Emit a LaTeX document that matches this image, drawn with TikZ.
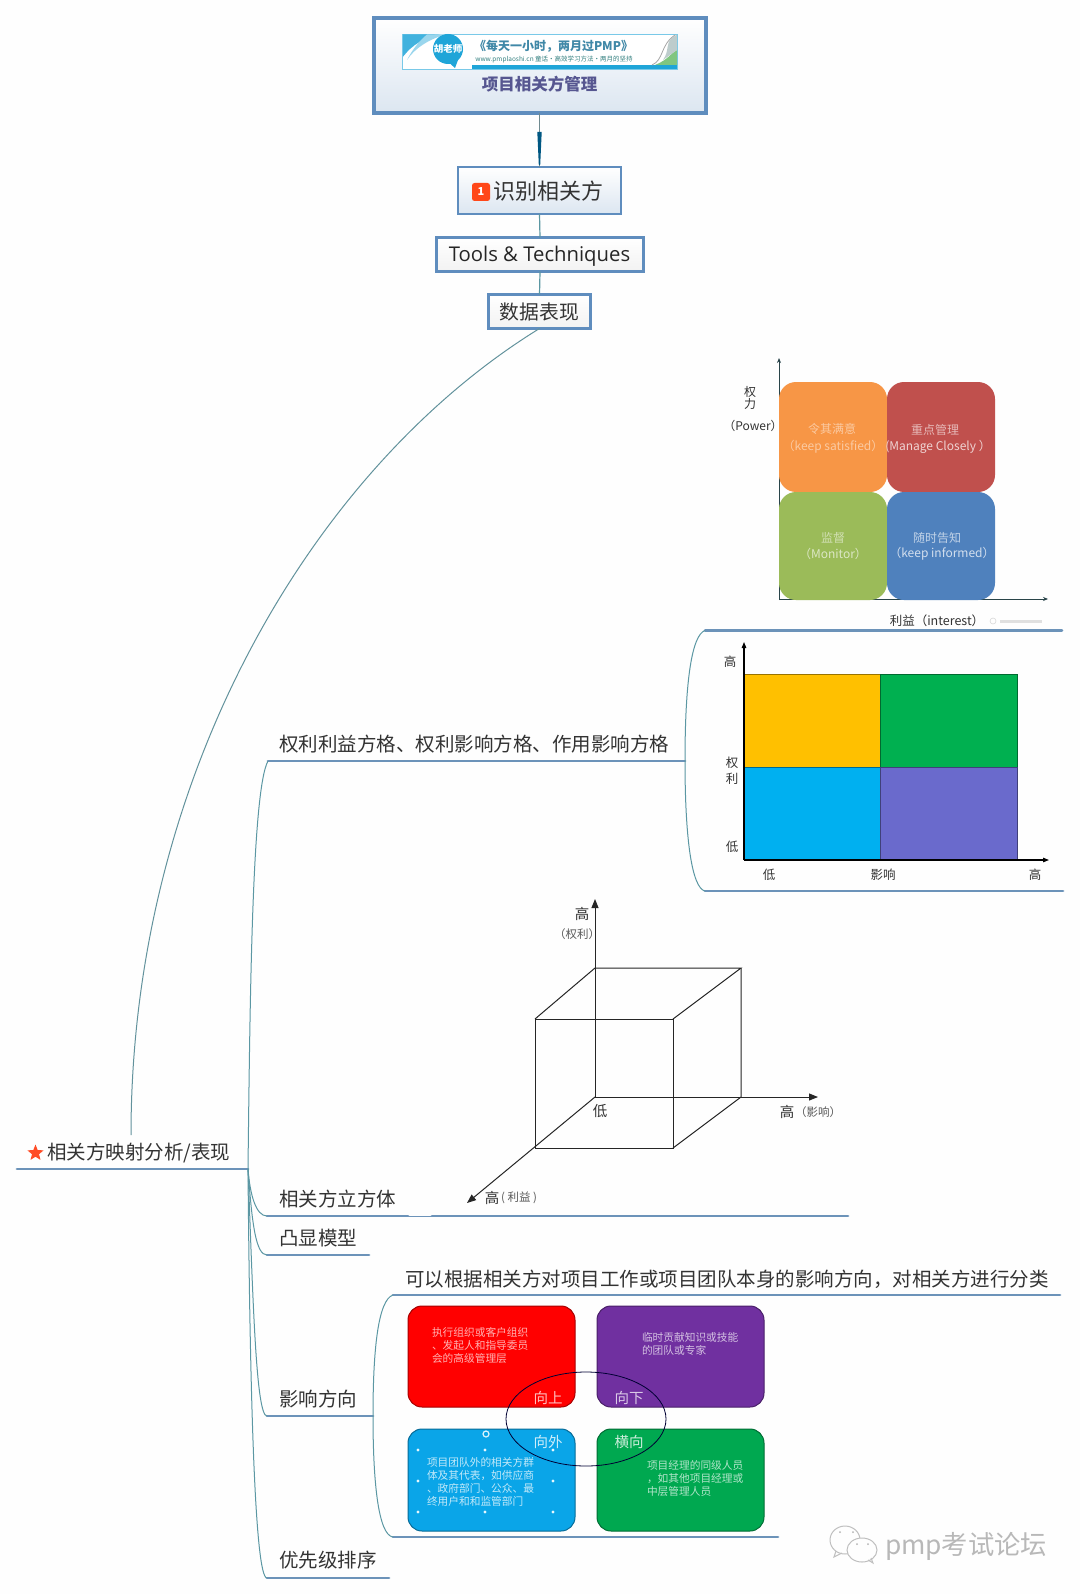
\documentclass[tikz,border=0pt]{standalone}
\usepackage{fontspec}
\setmainfont{Noto Sans CJK SC}
\newfontfamily\latinf{Open Sans}
\usetikzlibrary{shapes.geometric,arrows.meta}
\newcommand\fsz[1]{\fontsize{#1}{#1}\selectfont}
\definecolor{boxblue}{HTML}{5F8DBE}
\definecolor{lineblue}{HTML}{6C93B9}
\definecolor{conn}{HTML}{5B97A3}
\definecolor{ink}{HTML}{333333}
\definecolor{qorange}{HTML}{F79646}
\definecolor{qred}{HTML}{C0504D}
\definecolor{qgreen}{HTML}{9BBB59}
\definecolor{qblue}{HTML}{4F81BD}
\definecolor{gyellow}{HTML}{FFC000}
\definecolor{ggreen}{HTML}{00B050}
\definecolor{gcyan}{HTML}{00B0F0}
\definecolor{gviolet}{HTML}{6A6ACC}
\definecolor{ired}{HTML}{FF0000}
\definecolor{iviolet}{HTML}{7030A0}
\definecolor{icyan}{HTML}{0AA5E8}
\definecolor{igreen}{HTML}{00A850}
\definecolor{bancyan}{HTML}{1FA5D8}
\tikzset{
  every node/.style={inner sep=0pt,outer sep=0pt,text=ink},
  topbox/.style={draw=boxblue,shade,top color=white,bottom color=#1},
  topic/.style={anchor=west,font=\fsz{19.5}},
  uline/.style={draw=lineblue,line width=2.8pt,line cap=round},
  branch/.style={draw=conn,line width=1pt},
  smalltxt/.style={font=\fsz{12},text=#1},
  quad/.style={draw=none,rounded corners=17pt,fill=#1,minimum width=108pt},
  cell/.style={draw=#1!60!black,line width=1pt,fill=#1},
  infobox/.style={rounded corners=14pt,line width=1pt,draw=#1!65!black,fill=#1},
  infotxt/.style={anchor=north west,align=left,text=#1,font=\fontsize{10.7}{13.3}\selectfont},
  dirtxt/.style={font=\fsz{14.5},text=#1},
  cubeline/.style={draw=black!85,line width=1pt},
  cubeaxis/.style={draw=black!85,line width=1pt,-{Triangle[length=9pt,width=7pt]}},
  mapaxis/.style={draw=black!55!conn,line width=.9pt,-{Stealth[length=5pt,width=4pt]}},
  gaxis/.style={draw=black,line width=1.2pt,-{Triangle[length=6pt,width=4.5pt]}},
  handle/.style={circle,fill=white!90!cyan,minimum size=3.2pt}
}
\begin{document}
\begin{tikzpicture}[x=1pt,y=-1pt]
\useasboundingbox (0,0) rectangle (1080,1594);
\fill[white!99.5!black] (0,0) rectangle (1080,1594);

% --- top boxes
\node[topbox=boxblue!22!white,line width=4pt,minimum width=332pt,minimum height=95pt] (root) at (539.5,65.5) {};
\node[topbox=boxblue!22!white,line width=1.8pt,minimum width=163pt,minimum height=47pt] (ident) at (539.5,190.5) {};
\node[topbox=black!5,line width=2.2pt,minimum width=207pt,minimum height=34pt] (tools) at (540,254.5) {};
\node[font=\latinf\fsz{20.3},text=black!85] (toolst) at (539.5,256) {Tools \& Techniques};
\node[topbox=black!5,line width=2.2pt,minimum width=102pt,minimum height=34pt] (data) at (539.5,311.5) {\fsz{19.8}数据表现};

% banner
\node[rectangle,draw=bancyan!60,line width=.7pt,fill=white,minimum width=275pt,minimum height=35pt] (banner) at (539.5,51.5) {};
\fill[bancyan!85] (403,34.5) -- (435,34.5) .. controls (418,42) and (410,55) .. (403,65) -- cycle;
\fill[white] (403,57) .. controls (412,45) and (424,38) .. (440,34.5) -- (445,34.5) .. controls (428,40) and (414,50) .. (405,68) -- (403,68) -- cycle;
\fill[bancyan!45] (427,34.5) .. controls (420,40) and (412,50) .. (407,60) .. controls (415,48) and (428,40) .. (445,34.5) -- cycle;
\fill[bancyan] (472,65) rectangle (677,69);
\node[circle,fill=bancyan,minimum size=30pt] (bub) at (448,49) {};
\fill[bancyan] (446,60) -- (458,60) -- (455,68) -- cycle;
\node[font=\fsz{9.5}\bfseries,text=white] (hu) at (448,49) {胡老师};
\node[font=\fsz{12}\bfseries,text=cyan!40!teal!90!black] (bt) at (553.5,46.5) {《每天一小时，两月过PMP》};
\node[font=\fsz{6.5},text=teal!60!gray] (bu) at (554,59.5) {www.pmplaoshi.cn 童话•高效学习方法•两月的坚持};
\fill[green!55!black!50] (655,65) .. controls (668,60) and (672,52) .. (677,50) -- (677,65) -- cycle;
\fill[teal!30!gray!40] (663,60) .. controls (670,50) and (665,44) .. (672,38) -- (677,34.5) -- (677,50) -- cycle;
\draw[gray!70,line width=.8pt] (652,65) .. controls (664,60) and (660,45) .. (675,35);
\node[font=\fsz{16.5}\bfseries,text=blue!25!gray!90!black] (rt) at (539.5,84.5) {项目相关方管理};

% identify box content
\node[rounded corners=2.5pt,fill=red!60!orange!90,minimum size=18pt,font=\fsz{11}\bfseries,text=white] (icon) at (481,192) {1};
\node[anchor=west,font=\fsz{22}] (idt) at (493,191) {识别相关方};

% connectors between boxes
\draw[gray!55!conn,line width=1.2pt] (root.south) -- (ident.north);
\coordinate (tapA) at (539.5,130);
\fill[teal!80!blue!85!black] (tapA) ++(-2.2,2) -- ++(4.4,0) -- (540.2,165) -- (538.8,165) -- cycle;
\draw[conn,line width=1.2pt] (ident.south) -- (tools.north);
\draw[conn,line width=1.2pt] (tools.south) -- (data.north);

% --- main topic
\node[star,star points=5,star point ratio=2.3,fill=red!65!orange!85,minimum size=17pt] (mstar) at (35.5,1153) {};
\node[topic] (main) at (47,1153) {相关方映射分析/表现};
\coordinate (mL) at (17,1169);
\coordinate (mR) at (248,1169);
\coordinate (mUp) at (131,1135);
\draw[uline] (mL) -- (mR);
\draw[branch,draw=conn!80!gray] (data.south) .. controls (310,470) and (131,780) .. (mUp);

% --- sub topics
\node[topic] (t1) at (279,744) {权利利益方格、权利影响方格、作用影响方格};
\coordinate (t1a) at (268,761); \coordinate (t1b) at (685,761);
\draw[uline] (t1a) -- (t1b);
\draw[branch] (mR) .. controls (250,1000) and (252,790) .. (t1a);

\node[topic] (t2) at (279,1199) {相关方立方体};
\coordinate (t2a) at (267,1216); \coordinate (t2b) at (408,1216);
\coordinate (t2c) at (432,1216); \coordinate (t2d) at (848,1216);
\draw[uline] (t2a) -- (t2b);
\draw[uline] (t2c) -- (t2d);
\draw[lineblue,line width=1pt] (t2b) -- (t2c);
\draw[branch] (mR) .. controls (250,1195) and (256,1216) .. (t2a);

\node[topic] (t3) at (279,1238) {凸显模型};
\coordinate (t3a) at (267,1255); \coordinate (t3b) at (369,1255);
\draw[uline] (t3a) -- (t3b);
\draw[branch] (mR) .. controls (252,1225) and (256,1255) .. (t3a);

\node[topic] (t4) at (279,1399) {影响方向};
\coordinate (t4a) at (267,1416); \coordinate (t4b) at (373,1416);
\draw[uline] (t4a) -- (t4b);
\draw[branch] (mR) .. controls (253,1300) and (256,1416) .. (t4a);

\node[topic] (t5) at (279,1560) {优先级排序};
\coordinate (t5a) at (267,1578); \coordinate (t5b) at (389,1578);
\draw[uline] (t5a) -- (t5b);
\draw[branch] (mR) .. controls (250,1400) and (255,1578) .. (t5a);

% --- right bracket for the power grids
\coordinate (g1a) at (705,630.5); \coordinate (g1b) at (1062,630.5);
\coordinate (g2a) at (705,891); \coordinate (g2b) at (1063,891);
\draw[uline] (g1a) -- (g1b);
\draw[uline] (g2a) -- (g2b);
\draw[branch] (t1b) .. controls (685,680) and (692,635) .. (g1a);
\draw[branch] (t1b) .. controls (685,840) and (692,888) .. (g2a);

% --- first quadrant image
\draw[mapaxis] (779,600) -- (779,358);
\draw[mapaxis] (779,599) -- (1048,599);
\node[quad=qorange,minimum height=110pt] (qa) at (833,437) {};
\node[quad=qred,minimum height=110pt] (qb) at (941,437) {};
\node[quad=qgreen,minimum height=108pt] (qc) at (833,546) {};
\node[quad=qblue,minimum height=108pt] (qd) at (941,546) {};
\node[smalltxt=white!50!qorange] (qa1) at (832,429) {令其满意};
\node[smalltxt=white!50!qorange] (qa2) at (833,447) {（keep satisfied）};
\node[smalltxt=white!60!qred] (qb1) at (935,430) {重点管理};
\node[smalltxt=white!75!qred] (qb2) at (938,447) {(Manage Closely ）};
\node[smalltxt=white!55!qgreen] (qc1) at (833,538) {监督};
\node[smalltxt=white!65!qgreen] (qc2) at (833,554) {（Monitor）};
\node[smalltxt=white!65!qblue] (qd1) at (937,538) {随时告知};
\node[smalltxt=white!75!qblue] (qd2) at (942,554) {（keep informed）};
\node[font=\fsz{12}] (pa) at (750,392) {权};
\node[font=\fsz{12}] (pb) at (750,404) {力};
\node[font=\fsz{12}] (pc) at (753,425.5) {（Power）};
\node[font=\fsz{12.5}] (ia) at (937,621) {利益（interest）};
\draw[black!15,line width=.6pt] (993,621) circle (3pt);
\draw[black!12,line width=3pt] (1000,621) -- (1042,621);

% --- second quadrant image
\draw[cell=gyellow] (744,674) rectangle (880,767);
\draw[cell=ggreen] (880,674) rectangle (1017,767);
\draw[cell=gcyan] (744,767) rectangle (880,860);
\draw[cell=gviolet] (880,767) rectangle (1017,860);
\coordinate (gO) at (744,860);
\coordinate (gY) at (744,642);
\coordinate (gX) at (1049,860);
\draw[gaxis] (gO) -- (gY);
\draw[gaxis] (gO) -- (gX);
\node[font=\fsz{12.5}] (l1) at (730,662) {高};
\node[font=\fsz{12.5}] (l2) at (732,763) {权};
\node[font=\fsz{12.5}] (l3) at (732,779) {利};
\node[font=\fsz{12.5}] (l4) at (732,847) {低};
\node[font=\fsz{12.5}] (l5) at (769,875) {低};
\node[font=\fsz{12.5}] (l6) at (883,875) {影响};
\node[font=\fsz{12.5}] (l7) at (1035,875) {高};

% --- cube
\coordinate (o) at (595,1097);
\coordinate (bt) at (595,968); \coordinate (brt) at (741,968); \coordinate (brb) at (741,1097);
\coordinate (flt) at (535,1019); \coordinate (frt) at (673,1019);
\coordinate (flb) at (535,1148); \coordinate (frb) at (673,1148);
\coordinate (yE) at (595,899); \coordinate (xE) at (818,1097); \coordinate (zE) at (467,1203);
\draw[cubeline] (flt) rectangle (frb);
\draw[cubeline] (flt) -- (bt) -- (brt) -- (frt);
\draw[cubeline] (brt) -- (brb) -- (frb);
\draw[cubeaxis] (o) -- (yE);
\draw[cubeaxis] (o) -- (xE);
\draw[cubeaxis] (o) -- (zE);
\node[font=\fsz{14.5}] (c1) at (582,914) {高};
\node[font=\fsz{11.5},text=black!65] (c2) at (577,934) {（权利）};
\node[font=\fsz{14.5}] (c3) at (600,1111) {低};
\node[font=\fsz{14.5}] (c4) at (787,1112) {高};
\node[font=\fsz{11.5},text=black!65] (c5) at (818,1112) {（影响）};
\node[font=\fsz{14.5}] (c6) at (492,1198) {高};
\node[font=\fsz{11.5},text=black!65] (c7) at (519,1198) {( 利益 )};

% --- direction branch
\node[anchor=west,font=\fsz{19.5}] (dirhead) at (405,1279) {可以根据相关方对项目工作或项目团队本身的影响方向，对相关方进行分类};
\coordinate (d1a) at (393,1295); \coordinate (d1b) at (1060,1295);
\coordinate (d2a) at (393,1537); \coordinate (d2b) at (778,1537);
\draw[uline] (d1a) -- (d1b);
\draw[uline] (d2a) -- (d2b);
\draw[branch] (t4b) .. controls (373,1350) and (378,1300) .. (d1a);
\draw[branch] (t4b) .. controls (373,1480) and (378,1535) .. (d2a);

\draw[infobox=ired] (408,1306) rectangle (575,1407);
\draw[infobox=iviolet] (597,1306) rectangle (764,1407);
\draw[infobox=icyan] (408,1429) rectangle (575,1531);
\draw[infobox=igreen] (597,1429) rectangle (764,1531);
\node[infotxt=white!70!ired] (rtx) at (432,1327) {执行组织或客户组织\\、发起人和指导委员\\会的高级管理层};
\node[infotxt=white!70!iviolet] (ptx) at (642,1332) {临时贡献知识或技能\\的团队或专家};
\node[infotxt=white!75!icyan] (btx) at (427,1457) {项目团队外的相关方群\\体及其代表，如供应商\\、政府部门、公众、最\\终用户和和监管部门};
\node[infotxt=white!70!igreen] (gtx) at (647,1460) {项目经理的同级人员\\，如其他项目经理或\\中层管理人员};
\node[dirtxt=white!75!ired] (up) at (548,1398) {向上};
\node[dirtxt=white!75!iviolet] (dn) at (629,1398) {向下};
\node[dirtxt=white!80!icyan] (ou) at (548,1442) {向外};
\node[dirtxt=white!80!igreen] (lt) at (629,1442) {横向};
\node[ellipse,draw=black!80!blue,line width=.8pt,minimum width=160pt,minimum height=94pt] (oval) at (586,1419) {};
\foreach \hx/\hy/\hn in {418/1450/a,485/1450/b,553/1450/c,418/1481/d,553/1481/e,418/1512/f,485/1512/g,553/1512/h}
  \node[handle] (h\hn) at (\hx,\hy) {};
\draw[white!85!cyan,line width=1.2pt] (486,1434) circle (3pt);

% --- watermark
\begin{scope}[line width=1pt,draw=black!25]
\draw (845,1540) ellipse (15pt and 14pt);
\draw (836,1551) -- (834,1557) -- (842,1553);
\path[fill=white!99.5!black] (862,1550) ellipse (15pt and 12pt);
\draw (862,1550) ellipse (15pt and 12pt);
\draw (868,1560) -- (873,1563) -- (871,1558);
\end{scope}
\fill[black!30] (840,1532) circle (1pt) (853,1532) circle (1pt) (857,1544) circle (1pt) (868,1544) circle (1pt);
\node[anchor=west,font=\fsz{26.3},text=black!28] (wm) at (885,1546) {pmp考试论坛};
\end{tikzpicture}
\end{document}
